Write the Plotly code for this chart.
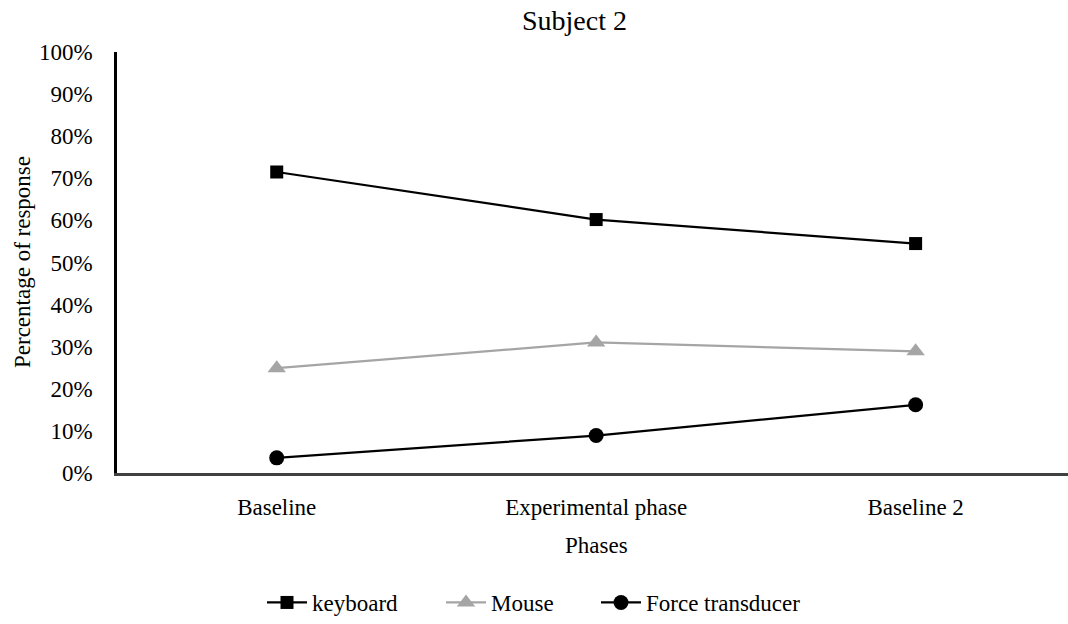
import plotly.graph_objects as go

# Phases on the category axis
phases = ["Baseline", "Experimental phase", "Baseline 2"]

# Percentage of responses per input device
keyboard = [71.5, 60.2, 54.5]
mouse = [24.9, 31.0, 28.9]
force_transducer = [3.6, 8.9, 16.2]

y_ticks = [0, 10, 20, 30, 40, 50, 60, 70, 80, 90, 100]
y_tick_text = [f"{v}%" for v in y_ticks]

FONT = "Liberation Serif"
W, H = 1068, 624
ML, MT, MB = 117, 52, 147
PW, PH = W - ML, H - MT - MB

fig = go.Figure()
fig.add_trace(go.Scatter(
    x=phases, y=keyboard, name="keyboard", mode="lines+markers",
    line=dict(color="#000000", width=2.25),
    marker=dict(symbol="square", size=13, color="#000000"),
    legend="legend",
))
fig.add_trace(go.Scatter(
    x=phases, y=mouse, name="Mouse", mode="lines+markers",
    line=dict(color="#A5A5A5", width=2.25),
    marker=dict(symbol="triangle-up", size=16, color="#A5A5A5"),
    legend="legend2",
))
fig.add_trace(go.Scatter(
    x=phases, y=force_transducer, name="Force transducer", mode="lines+markers",
    line=dict(color="#000000", width=2.25),
    marker=dict(symbol="circle", size=15, color="#000000"),
    legend="legend3",
))


def px_x(px):
    return (px - ML) / PW


def px_y(py):
    return (H - MB - py) / PH


def legend_box(left_px):
    return dict(
        orientation="h", x=px_x(left_px), xanchor="left",
        y=px_y(608), yanchor="middle",
        font=dict(family=FONT, size=23, color="#000000"),
        itemwidth=40, bgcolor="rgba(0,0,0,0)",
    )


fig.update_layout(
    width=W, height=H,
    margin=dict(l=ML, r=0, t=MT, b=MB, pad=0),
    paper_bgcolor="white", plot_bgcolor="white",
    font=dict(family=FONT, size=23, color="#000000"),
    showlegend=True,
    legend=legend_box(262),
    legend2=legend_box(441),
    legend3=legend_box(596),
    xaxis=dict(
        type="category", range=[-0.5, 2.477],
        showline=True, linecolor="#404040", linewidth=2.5,
        showgrid=False, zeroline=False, ticks="",
        ticklabelstandoff=12,
        tickfont=dict(family=FONT, size=23, color="#000000"),
    ),
    yaxis=dict(
        range=[0, 100], tickvals=y_ticks, ticktext=y_tick_text,
        showline=True, linecolor="#000000", linewidth=2.5,
        showgrid=False, zeroline=False, ticks="",
        ticklabelstandoff=17,
        tickfont=dict(family=FONT, size=23, color="#000000"),
    ),
    annotations=[
        dict(text="Subject 2", x=px_x(574), y=px_y(20), xref="paper", yref="paper",
             showarrow=False, xanchor="center", yanchor="middle",
             font=dict(family=FONT, size=28, color="#000000")),
        dict(text="Phases", x=px_x(596), y=px_y(550), xref="paper", yref="paper",
             showarrow=False, xanchor="center", yanchor="middle",
             font=dict(family=FONT, size=23, color="#000000")),
        dict(text="Percentage of response", x=px_x(22), y=px_y(264), xref="paper", yref="paper",
             showarrow=False, xanchor="center", yanchor="middle", textangle=-90,
             font=dict(family=FONT, size=23, color="#000000")),
    ],
)

fig.write_html("out.html")
